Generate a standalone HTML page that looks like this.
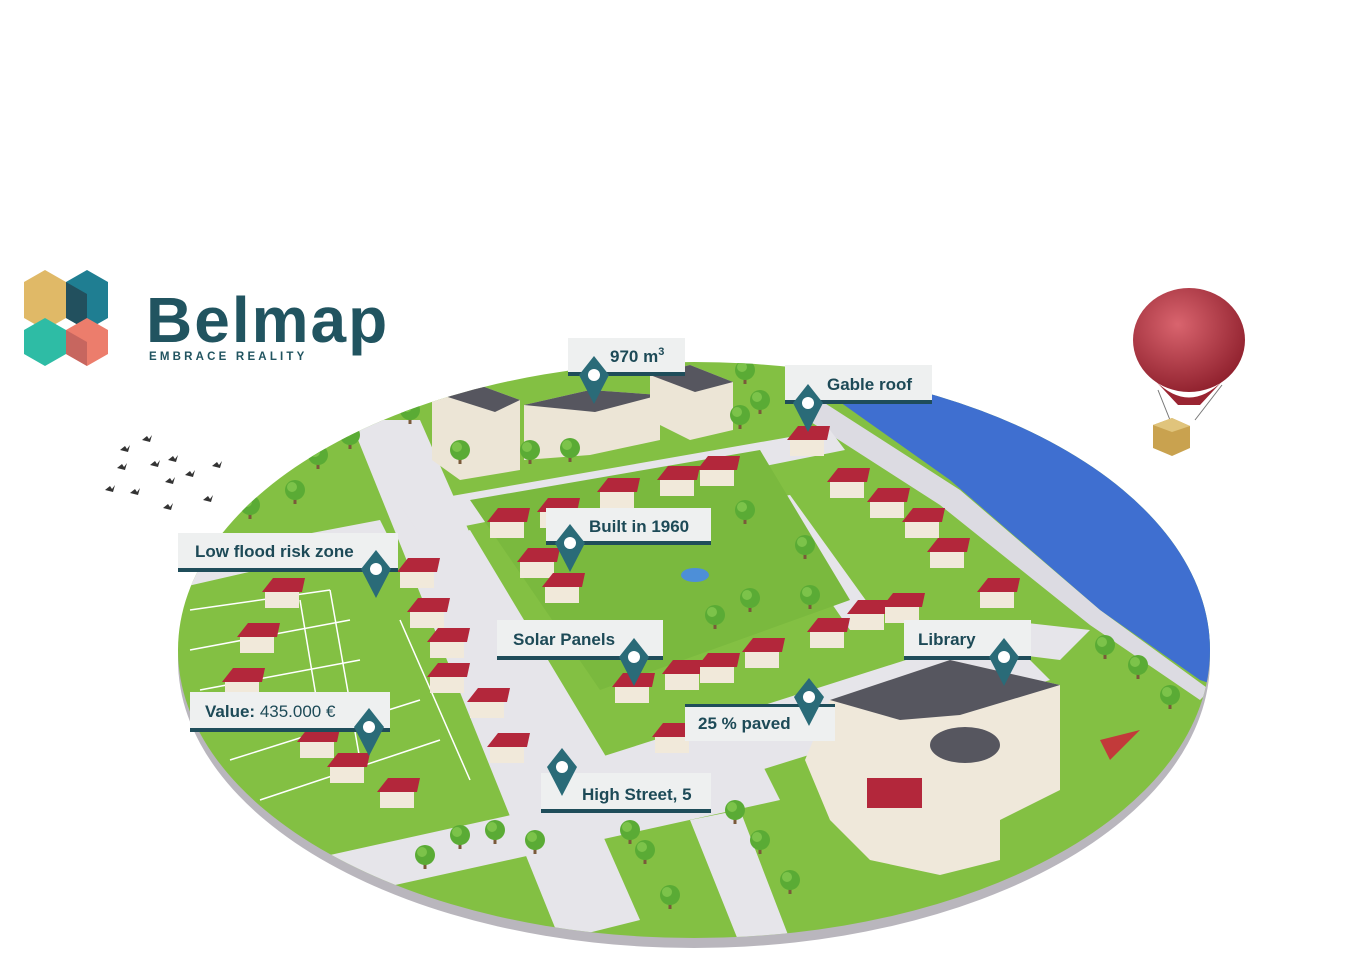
<!DOCTYPE html>
<html><head><meta charset="utf-8"><style>
html,body{margin:0;padding:0;background:#fff;}
svg{display:block;}
text{font-family:"Liberation Sans",sans-serif;}
.lb{fill:#1d4a57;font-size:17px;font-weight:bold;}
</style></head><body>
<svg width="1350" height="965" viewBox="0 0 1350 965" xmlns="http://www.w3.org/2000/svg">
<defs>
<clipPath id="disc"><ellipse cx="694" cy="650" rx="516" ry="288"/></clipPath>
<radialGradient id="bal" cx="0.4" cy="0.35" r="0.7"><stop offset="0" stop-color="#d9646e"/><stop offset="1" stop-color="#8e1f2c"/></radialGradient>
<g id="pin"><path d="M0,-22 L15,-3 L0,26 L-15,-3 Z" fill="#2a6b78"/><circle cx="0" cy="-3" r="6" fill="#fff"/></g>
<g id="tree"><rect x="-1.5" y="4" width="3" height="10" fill="#7a5a3a"/><circle r="10" fill="#5aab35"/><circle cx="-3" cy="-3" r="5" fill="#7cc34a"/></g>
<g id="house"><path d="M0,0 h34 v18 h-34 z" fill="#f1e9da"/><path d="M-3,2 L8,-12 L40,-12 L37,2 Z" fill="#b3273b"/></g>
</defs>

<!-- logo -->
<g>
<path d="M24,282 L45,270 L66,282 L66,318 L45,330 L24,318 Z" fill="#e0b967"/>
<path d="M66,282 L87,270 L108,282 L108,318 L87,330 L66,318 Z" fill="#1f7e92"/>
<path d="M66,282 L87,294 L87,330 L66,318 Z" fill="#22505e"/>
<path d="M24,330 L45,318 L66,330 L66,354 L45,366 L24,354 Z" fill="#2ebca5"/>
<path d="M66,330 L87,318 L108,330 L108,354 L87,366 L66,354 Z" fill="#ec7d6c"/>
<path d="M66,330 L87,342 L87,366 L66,354 Z" fill="#c7665f"/>
<text x="146" y="342" font-size="64" font-weight="bold" fill="#215460" letter-spacing="2">Belmap</text>
<text x="149" y="360" font-size="11.5" font-weight="bold" fill="#215460" letter-spacing="3.2">EMBRACE REALITY</text>
</g>

<!-- birds -->
<g fill="#333">
<path d="M120,450 l5,-4 l2,3 l3,-4 l-2,7z"/><path d="M142,440 l5,-4 l2,3 l3,-4 l-2,7z"/>
<path d="M150,465 l5,-4 l2,3 l3,-4 l-2,7z"/><path d="M168,460 l5,-4 l2,3 l3,-4 l-2,7z"/>
<path d="M117,468 l5,-4 l2,3 l3,-4 l-2,7z"/><path d="M212,466 l5,-4 l2,3 l3,-4 l-2,7z"/>
<path d="M185,475 l5,-4 l2,3 l3,-4 l-2,7z"/><path d="M105,490 l5,-4 l2,3 l3,-4 l-2,7z"/>
<path d="M130,493 l5,-4 l2,3 l3,-4 l-2,7z"/><path d="M165,482 l5,-4 l2,3 l3,-4 l-2,7z"/>
<path d="M203,500 l5,-4 l2,3 l3,-4 l-2,7z"/><path d="M163,508 l5,-4 l2,3 l3,-4 l-2,7z"/>
</g>

<!-- balloon -->
<path d="M1158,390 L1170,420 M1222,385 L1195,420" stroke="#777" stroke-width="1"/>
<ellipse cx="1189" cy="340" rx="56" ry="52" fill="url(#bal)"/>
<path d="M1150,375 Q1189,420 1228,375 L1200,405 L1178,405 Z" fill="#9a2532"/>
<path d="M1153,425 L1172,418 L1190,426 L1190,448 L1172,456 L1153,448 Z" fill="#c9a24f"/>
<path d="M1153,425 L1172,418 L1190,426 L1172,432 Z" fill="#e0c47c"/>

<!-- disc base -->
<ellipse cx="694" cy="660" rx="516" ry="288" fill="#b9b6bd"/>
<ellipse cx="694" cy="650" rx="516" ry="288" fill="#83c043"/>
<g clip-path="url(#disc)">
  <!-- river -->
  <path d="M830,395 L1000,380 L1230,560 L1230,690 L1200,680 L1100,610 L950,480 Z" fill="#3f6fd0"/>
  <path d="M820,400 L960,490 L1100,610 L1210,690 L1200,700 L1090,625 L940,505 L800,415 Z" fill="#dcdbe2"/>
  <!-- roads -->
  <g fill="#e6e5ea">
    <path d="M350,420 L420,420 L640,920 L560,940 Z"/>
    <path d="M400,505 L830,430 L845,450 L420,535 Z"/>
    <path d="M440,540 L470,530 L620,780 L590,800 Z"/>
    <path d="M560,770 L1000,630 L1050,680 L600,820 Z"/>
    <path d="M330,855 L760,760 L780,800 L350,895 Z"/>
    <path d="M690,820 L740,810 L790,940 L740,945 Z"/>
    <path d="M760,500 L790,495 L880,620 L850,630 Z"/>
    <path d="M1000,620 L1090,630 L1060,660 L980,650 Z"/>
    <path d="M170,560 L380,520 L390,540 L170,590 Z"/>
  </g>
  <g stroke="#fff" stroke-width="1.5" fill="none">
    <path d="M190,610 L330,590 M190,650 L350,620 M200,690 L360,660 M230,760 L420,700 M260,800 L440,740 M330,590 L360,760 M300,600 L320,720 M400,620 L470,780"/>
  </g>
  <path d="M470,500 L760,450 L850,600 L600,690 Z" fill="#7ab93e"/>
  <ellipse cx="695" cy="575" rx="14" ry="7" fill="#4d8fd8"/>
  <g>
    <path d="M432,392 L460,378 L520,400 L520,470 L460,480 L432,460 Z" fill="#ece5d6"/>
    <path d="M432,392 L460,378 L520,400 L495,412 Z" fill="#56565f"/>
    <path d="M524,405 L590,390 L660,395 L660,440 L590,455 L524,460 Z" fill="#ece5d6"/>
    <path d="M524,405 L590,390 L660,395 L595,412 Z" fill="#56565f"/>
    <path d="M650,375 L690,365 L733,382 L733,430 L690,440 L650,420 Z" fill="#ece5d6"/>
    <path d="M650,375 L690,365 L733,382 L695,392 Z" fill="#56565f"/>
  </g>
  <g>
    <use href="#house" x="600" y="490"/><use href="#house" x="660" y="478"/><use href="#house" x="700" y="468"/>
    <use href="#house" x="490" y="520"/><use href="#house" x="540" y="510"/>
    <use href="#house" x="520" y="560"/><use href="#house" x="545" y="585"/>
    <use href="#house" x="790" y="438"/>
    <use href="#house" x="830" y="480"/><use href="#house" x="870" y="500"/><use href="#house" x="905" y="520"/><use href="#house" x="930" y="550"/>
    <use href="#house" x="980" y="590"/>
    <use href="#house" x="615" y="685"/><use href="#house" x="665" y="672"/><use href="#house" x="700" y="665"/>
    <use href="#house" x="745" y="650"/><use href="#house" x="810" y="630"/><use href="#house" x="850" y="612"/><use href="#house" x="885" y="605"/>
    <use href="#house" x="265" y="590"/><use href="#house" x="240" y="635"/><use href="#house" x="400" y="570"/><use href="#house" x="410" y="610"/>
    <use href="#house" x="430" y="640"/><use href="#house" x="430" y="675"/><use href="#house" x="470" y="700"/>
    <use href="#house" x="490" y="745"/><use href="#house" x="300" y="740"/><use href="#house" x="330" y="765"/>
    <use href="#house" x="380" y="790"/><use href="#house" x="225" y="680"/><use href="#house" x="655" y="735"/>
  </g>
  <path d="M830,700 L950,660 L1060,685 L1060,790 L1000,820 L1000,860 L940,875 L870,860 L830,820 L805,760 Z" fill="#efe8da"/>
  <path d="M830,700 L950,660 L1060,685 L960,715 L900,720 Z" fill="#56565f"/>
  <ellipse cx="965" cy="745" rx="35" ry="18" fill="#56565f"/>
  <rect x="867" y="778" width="55" height="30" fill="#b3273b"/>
  <g>
    <use href="#tree" x="350" y="435"/><use href="#tree" x="318" y="455"/><use href="#tree" x="295" y="490"/><use href="#tree" x="250" y="505"/>
    <use href="#tree" x="410" y="410"/><use href="#tree" x="460" y="450"/><use href="#tree" x="530" y="450"/><use href="#tree" x="570" y="448"/>
    <use href="#tree" x="745" y="370"/><use href="#tree" x="760" y="400"/><use href="#tree" x="740" y="415"/>
    <use href="#tree" x="745" y="510"/><use href="#tree" x="805" y="545"/><use href="#tree" x="750" y="598"/><use href="#tree" x="810" y="595"/><use href="#tree" x="715" y="615"/>
    <use href="#tree" x="1105" y="645"/><use href="#tree" x="1138" y="665"/><use href="#tree" x="1170" y="695"/>
    <use href="#tree" x="460" y="835"/><use href="#tree" x="495" y="830"/><use href="#tree" x="535" y="840"/><use href="#tree" x="425" y="855"/>
    <use href="#tree" x="630" y="830"/><use href="#tree" x="645" y="850"/><use href="#tree" x="670" y="895"/>
    <use href="#tree" x="760" y="840"/><use href="#tree" x="790" y="880"/><use href="#tree" x="735" y="810"/>
  </g>
  <path d="M1100,740 L1140,730 L1110,760 Z" fill="#c23a3a"/>
</g>

<g>
  <rect x="568" y="338" width="117" height="34" fill="#eef0f0"/><rect x="568" y="372" width="117" height="4" fill="#1f4d5a"/>
  <text x="610" y="362" class="lb">970 m<tspan font-size="11" dy="-7">3</tspan></text>
  <use href="#pin" x="594" y="378"/>

  <rect x="785" y="365" width="147" height="35" fill="#eef0f0"/><rect x="785" y="400" width="147" height="4" fill="#1f4d5a"/>
  <text x="827" y="390" class="lb">Gable roof</text>
  <use href="#pin" x="808" y="406"/>

  <rect x="546" y="508" width="165" height="33" fill="#eef0f0"/><rect x="546" y="541" width="165" height="4" fill="#1f4d5a"/>
  <text x="589" y="532" class="lb">Built in 1960</text>
  <use href="#pin" x="570" y="546"/>

  <rect x="178" y="533" width="220" height="35" fill="#eef0f0"/><rect x="178" y="568" width="220" height="4" fill="#1f4d5a"/>
  <text x="195" y="557" class="lb">Low flood risk zone</text>
  <use href="#pin" x="376" y="572"/>

  <rect x="497" y="620" width="166" height="36" fill="#eef0f0"/><rect x="497" y="656" width="166" height="4" fill="#1f4d5a"/>
  <text x="513" y="645" class="lb">Solar Panels</text>
  <use href="#pin" x="634" y="660"/>

  <rect x="904" y="620" width="127" height="36" fill="#eef0f0"/><rect x="904" y="656" width="127" height="4" fill="#1f4d5a"/>
  <text x="918" y="645" class="lb">Library</text>
  <use href="#pin" x="1004" y="660"/>

  <rect x="685" y="704" width="150" height="37" fill="#eef0f0"/><rect x="685" y="704" width="150" height="3" fill="#1f4d5a"/>
  <text x="698" y="729" class="lb">25 % paved</text>
  <use href="#pin" x="809" y="700"/>

  <rect x="190" y="692" width="200" height="36" fill="#eef0f0"/><rect x="190" y="728" width="200" height="4" fill="#1f4d5a"/>
  <text x="205" y="717" class="lb">Value:  <tspan font-weight="normal">435.000 €</tspan></text>
  <use href="#pin" x="369" y="730"/>

  <rect x="541" y="773" width="170" height="36" fill="#eef0f0"/><rect x="541" y="809" width="170" height="4" fill="#1f4d5a"/>
  <text x="582" y="800" class="lb">High Street, 5</text>
  <use href="#pin" x="562" y="770"/>
</g>
</svg>
</body></html>
